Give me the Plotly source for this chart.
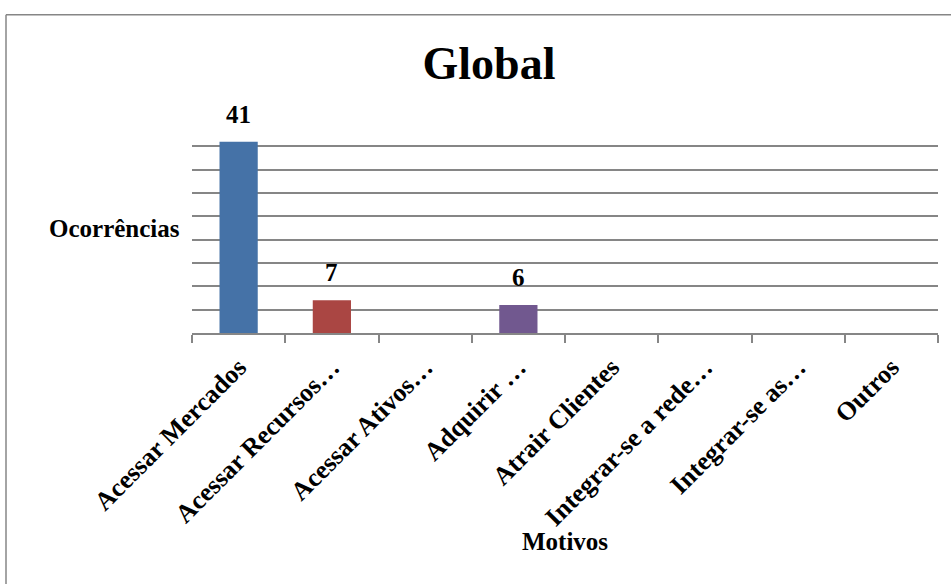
import plotly.graph_objects as go

categories = ["Acessar Mercados", "Acessar Recursos…", "Acessar Ativos…", "Adquirir …",
              "Atrair Clientes", "Integrar-se a rede…", "Integrar-se as…", "Outros"]
values = [41, 7, 0, 6, 0, 0, 0, 0]
bar_colors = ["#4572A7", "#AA4643", "#89A54E", "#71588F", "#4198AF", "#DB843D", "#93A9CF", "#D19392"]
title_text = "Global"
x_title = "Motivos"
y_title = "Ocorrências"

FONT = "'Liberation Serif', 'Times New Roman', Times, serif"
W, H = 951, 584
L, R, T, B = 192, 13, 123, 251
pw = W - L - R
ph = H - T - B

fig = go.Figure()
fig.add_trace(go.Bar(
    x=categories, y=values, marker=dict(color=bar_colors, line=dict(width=0)),
    width=0.41, showlegend=False, hoverinfo="x+y",
))

for c, v in zip(categories, values):
    if v:
        fig.add_annotation(x=c, y=v, xref="x", yref="y", text=f"<b>{v}</b>",
                           showarrow=False, yanchor="bottom", yshift=12,
                           font=dict(family=FONT, size=25, color="black"))

# y-axis title (horizontal)
fig.add_annotation(xref="paper", yref="paper", x=(182 - L) / pw, y=(333.3 - 229) / ph,
                   xanchor="right", yanchor="middle", text=f"<b>{y_title}</b>",
                   showarrow=False, font=dict(family=FONT, size=25, color="black"))
# x-axis title
fig.add_annotation(xref="paper", yref="paper", x=0.5, y=(333.3 - 541.5) / ph,
                   xanchor="center", yanchor="middle", text=f"<b>{x_title}</b>",
                   showarrow=False, font=dict(family=FONT, size=25, color="black"))

# outer chart-area border (left and top edges visible)
border = dict(color="#868686", width=1.5)
fig.add_shape(type="line", xref="paper", yref="paper",
              x0=(6 - L) / pw, x1=(6 - L) / pw, y0=(333.3 - 600) / ph, y1=(333.3 - 15) / ph, line=border)
fig.add_shape(type="line", xref="paper", yref="paper",
              x0=(6 - L) / pw, x1=(960 - L) / pw, y0=(333.3 - 15) / ph, y1=(333.3 - 15) / ph, line=border)

fig.update_layout(
    width=W, height=H,
    margin=dict(l=L, r=R, t=T, b=B, pad=0),
    paper_bgcolor="white", plot_bgcolor="white",
    title=dict(text=f"<b>{title_text}</b>", x=489 / W, xanchor="center",
               y=1 - 63 / H, yanchor="middle", yref="container",
               font=dict(family=FONT, size=46, color="black")),
    font=dict(family=FONT, color="black"),
    bargap=0.59,
)
fig.update_xaxes(
    type="category", tickangle=-45, tickson="boundaries", ticks="outside", ticklen=8,
    tickcolor="#868686", tickwidth=1.5, showline=True, linecolor="#868686", linewidth=1.5,
    showgrid=False, tickfont=dict(family=FONT, size=26, color="black"),
    tickprefix="<b>", ticksuffix="</b>", ticklabelstandoff=7,
)
fig.update_yaxes(
    range=[0, 45], dtick=5, showticklabels=False, showgrid=True, gridcolor="#868686",
    gridwidth=1.5, zeroline=False, showline=False, ticks="",
)

fig.write_html("out.html")
